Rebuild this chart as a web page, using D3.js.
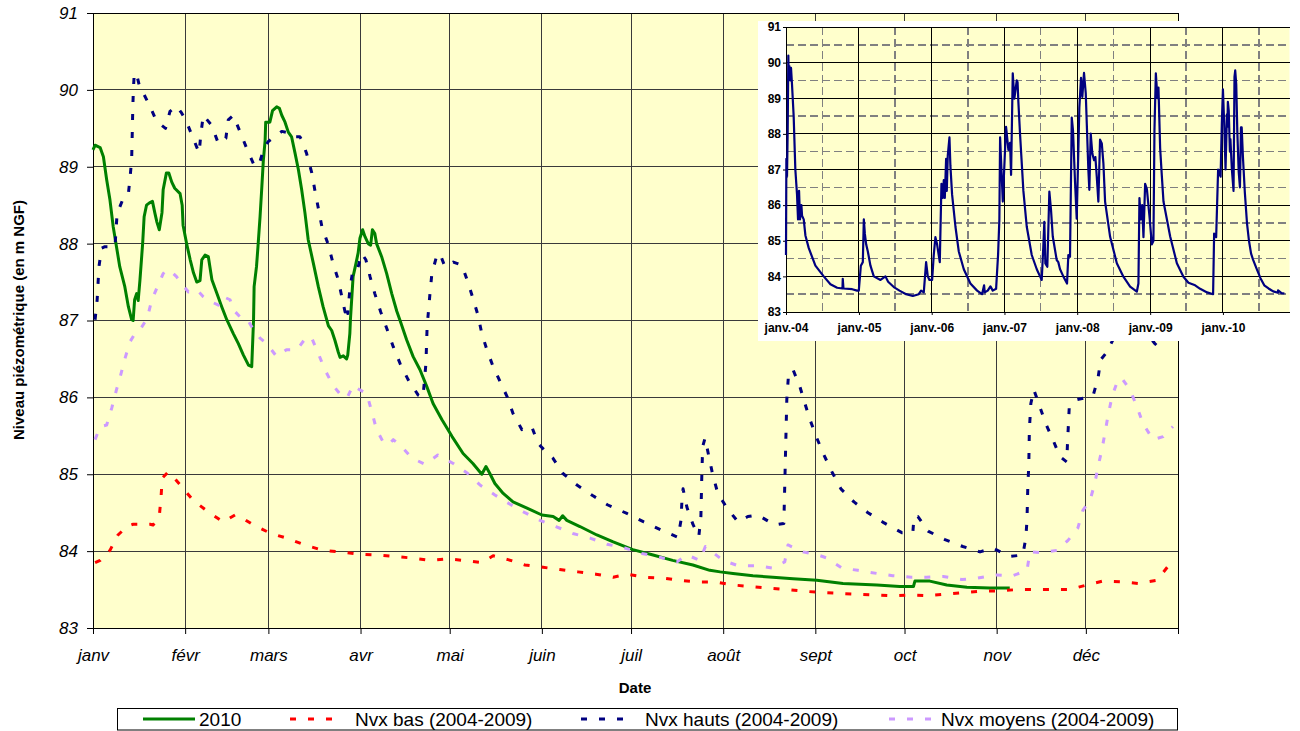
<!DOCTYPE html>
<html>
<head>
<meta charset="utf-8">
<script src="https://cdn.jsdelivr.net/npm/d3@7"></script>
<style>
  body { margin: 0; background: #fff; }
  svg { display: block; }
  text { font-family: "Liberation Sans", Arial, Helvetica, sans-serif; }
</style>
</head>
<body>
<svg id="chart" width="1300" height="731"></svg>
<script>
// ---- Labels -------------------------------------------------------------
const monthLabels = ["janv", "févr", "mars", "avr", "mai", "juin", "juil", "août", "sept", "oct", "nov", "déc"];
const levelTicks = [83, 84, 85, 86, 87, 88, 89, 90, 91];
const historyYearLabels = ["janv.-04", "janv.-05", "janv.-06", "janv.-07", "janv.-08", "janv.-09", "janv.-10"];
const seriesNames = ["2010", "Nvx bas (2004-2009)", "Nvx hauts (2004-2009)", "Nvx moyens (2004-2009)"];

// ---- Yearly curves: [day of year, level m NGF] --------------------------
const level2010 = [
  [0,89.22],[0.7,89.28],[2.4,89.25],[3.5,89.13],[4.6,88.83],[5.7,88.57],[6.8,88.22],[7.9,87.96],
  [9,87.70],[10.7,87.44],[11.9,87.18],[13,87.01],[13.5,87.0],[14,87.27],[14.7,87.35],[15.2,87.26],
  [15.8,87.53],[16.7,88.0],[17.2,88.35],[18,88.5],[19,88.53],[20,88.55],[20.8,88.40],[21.5,88.28],
  [22.3,88.18],[23.2,88.40],[23.6,88.70],[24.7,88.92],[25.5,88.92],[26.5,88.80],[27.5,88.72],
  [29.3,88.65],[30,88.50],[30.3,88.24],[31.6,87.98],[32.7,87.79],[33.8,87.62],[34.9,87.50],
  [36,87.52],[36.6,87.79],[37.7,87.85],[38.8,87.83],[40,87.53],[41.6,87.36],[43.3,87.18],[45,87.01],
  [47.2,86.83],[48.9,86.70],[50.6,86.55],[52.3,86.42],[53.4,86.40],[54,87.0],[54.2,87.44],[55,87.70],
  [55.5,87.96],[56.2,88.35],[56.8,88.74],[57.3,89.08],[57.9,89.34],[58.1,89.58],[59.5,89.58],
  [60.4,89.73],[61.8,89.78],[62.7,89.76],[63.5,89.67],[64.6,89.58],[65.7,89.45],[66.8,89.39],
  [68,89.17],[69.1,88.96],[70.2,88.70],[71.3,88.40],[72.4,88.05],[74.1,87.75],[75.8,87.44],
  [77.4,87.18],[79.2,86.93],[80.3,86.87],[81.4,86.74],[82.5,86.59],[83.1,86.52],[84.2,86.54],
  [85.3,86.50],[85.7,86.55],[86.4,86.83],[86.6,87.01],[87.5,87.57],[88.5,87.75],[89.2,87.88],
  [89.8,88.07],[90.7,88.18],[91.5,88.09],[92.6,88.0],[93.4,87.98],[94,88.18],[94.8,88.13],[95.4,88.0],
  [97.1,87.83],[98.8,87.61],[100.5,87.35],[102.2,87.12],[103.3,87.0],[105.5,86.75],[107.7,86.53],
  [110,86.36],[112.3,86.14],[114.4,85.92],[117.4,85.71],[120.8,85.49],[124.5,85.27],[127.8,85.14],
  [130.8,85.0],[132.2,85.10],[133.5,85.01],[135.2,84.88],[138,84.75],[141.3,84.64],[146,84.56],
  [151,84.47],[154.8,84.45],[156.8,84.40],[158,84.46],[159.4,84.40],[163.8,84.32],[169.5,84.21],
  [175,84.12],[181.6,84.02],[188.4,83.95],[195,83.88],[201.8,83.82],[207.5,83.75],[211,83.73],
  [215.3,83.71],[222,83.68],[228.7,83.66],[235.5,83.64],[243.5,83.62],[252.3,83.58],[263.7,83.56],
  [271.4,83.54],[276,83.54],[276.5,83.61],[281.5,83.61],[287.2,83.56],[294,83.53],[301.7,83.52],
  [308.4,83.52]
];

const lowLevels = [
  [0.7,83.85],[2.4,83.88],[5.7,84.01],[8.4,84.21],[11.4,84.32],[13.5,84.35],[19.2,84.35],[20.2,84.34],
  [22.3,84.45],[22.9,84.71],[23.3,84.95],[25.3,85.03],[26.5,84.99],[29.8,84.84],[33.7,84.66],
  [38.8,84.51],[43.8,84.38],[47.8,84.47],[49.4,84.45],[54,84.34],[59.8,84.23],[65.1,84.17],
  [71.3,84.08],[77.4,84.01],[83.1,83.99],[89.8,83.96],[95.4,83.95],[101.6,83.93],[107.3,83.91],
  [113.4,83.88],[119,83.90],[124.5,83.88],[130.8,83.85],[134.6,83.94],[139.6,83.89],[145.3,83.82],
  [151.4,83.79],[157,83.76],[163.1,83.73],[169.2,83.70],[175,83.66],[179.6,83.70],[185.7,83.66],
  [191.7,83.65],[197.4,83.62],[203.2,83.60],[209.2,83.60],[215.3,83.56],[221,83.54],[227,83.52],
  [233.4,83.50],[238.8,83.48],[245.2,83.46],[251.3,83.45],[257,83.44],[263,83.43],[269,83.42],
  [274.8,83.43],[280.9,83.42],[286.6,83.44],[292.7,83.46],[298.7,83.48],[304.4,83.48],[310.8,83.50],
  [316.5,83.50],[322.6,83.50],[328.6,83.50],[334.3,83.56],[339.7,83.61],[346.1,83.60],[351.5,83.58],
  [357.9,83.62],[361.6,83.80],[363.5,83.87]
];

const highLevels = [
  [0.7,87.01],[1.4,87.27],[2,87.70],[2.9,87.94],[4,87.96],[7.4,87.96],[8.1,88.39],[10.2,88.59],
  [11.9,88.65],[12.4,88.83],[13,89.09],[13.2,89.43],[13.4,89.78],[13.6,90.02],[13.9,90.22],
  [14.7,90.20],[15.8,90.02],[16.9,89.96],[19,89.80],[21.4,89.59],[24.4,89.50],[25.9,89.72],
  [28.1,89.79],[29.8,89.70],[31.4,89.59],[33.7,89.37],[35.7,89.18],[36.3,89.43],[37.1,89.67],
  [39.9,89.54],[42.2,89.30],[44.7,89.37],[45.5,89.61],[47.2,89.67],[49.4,89.46],[51.7,89.24],
  [54.2,89.02],[55,89.0],[56.2,89.07],[57.3,89.22],[59,89.33],[61.8,89.41],[63.5,89.46],[66,89.44],
  [67.3,89.39],[69.6,89.39],[70.2,89.35],[71.8,89.18],[73.6,88.92],[74.7,88.68],[75.8,88.46],
  [77,88.22],[79.2,87.98],[80.7,87.75],[82.5,87.53],[83.7,87.31],[84.8,87.11],[85.3,87.20],
  [85.7,87.09],[86.4,87.40],[87.3,87.63],[88.7,87.63],[90.4,87.87],[91.8,87.79],[93.2,87.57],
  [94.8,87.35],[96.8,87.11],[98.8,86.90],[101,86.66],[103.3,86.44],[106,86.23],[109.4,86.03],
  [111,86.0],[112,86.44],[112.4,86.92],[113.4,87.37],[114,87.61],[115.7,87.85],[116.7,87.87],
  [118.4,87.70],[121.2,87.76],[124.1,87.72],[126.1,87.50],[127.8,87.29],[129.5,87.07],[130.8,86.83],
  [132.5,86.62],[134.6,86.40],[139.3,86.01],[141.3,85.79],[144.3,85.58],[146.3,85.61],[147.6,85.62],
  [149.7,85.40],[152.7,85.28],[154.7,85.21],[158.1,85.01],[162.8,84.86],[168.2,84.72],[173.2,84.60],
  [179.6,84.49],[185.3,84.38],[191.4,84.27],[196.8,84.18],[197.8,84.40],[198.1,84.64],[198.5,84.81],
  [199.8,84.57],[201.8,84.35],[203.8,84.19],[204.5,84.45],[204.8,84.97],[205.1,85.36],[205.9,85.47],
  [207.2,85.23],[208.5,84.99],[210.2,84.75],[213.3,84.56],[217,84.38],[220.3,84.45],[223.7,84.47],
  [226.7,84.40],[229.4,84.34],[232.4,84.36],[232.7,84.84],[233.1,85.49],[233.4,85.97],[234,86.31],
  [235.5,86.36],[237.8,86.14],[239.5,85.92],[241.2,85.71],[243.5,85.47],[245.9,85.25],[248.6,85.03],
  [251.6,84.81],[256,84.64],[260.7,84.50],[266,84.37],[272.1,84.24],[275.8,84.24],[276.2,84.45],
  [277.5,84.45],[280.9,84.26],[286.6,84.15],[292.6,84.06],[298.4,83.99],[302.7,84.04],[308.4,83.93],
  [312.8,83.95],[313.8,84.17],[314.2,84.40],[314.5,84.88],[314.8,85.10],[315,85.58],[315.5,85.92],
  [316.5,86.10],[318.5,85.88],[320.5,85.66],[322.9,85.45],[325.3,85.23],[327.6,85.16],[327.8,85.38],
  [328.1,85.62],[328.4,85.86],[331,85.97],[335.4,86.01],[336.5,86.03],[338.1,86.25],[339,86.49],
  [341.1,86.59],[345,86.9],[349,87.1],[353,86.9],[357.2,86.70],[358.9,86.64]
];

const meanLevels = [
  [0.7,85.45],[2.4,85.62],[4.6,85.64],[6.3,85.86],[7.9,86.10],[9.3,86.29],[10.8,86.51],[12.4,86.72],
  [14.1,86.83],[15.8,86.88],[17.3,86.97],[18.1,87.01],[19.8,87.27],[21.9,87.46],[23.6,87.61],
  [24.7,87.66],[25.9,87.65],[28.1,87.57],[29.8,87.48],[32.1,87.37],[34.9,87.40],[37.1,87.31],
  [39.4,87.25],[42.2,87.20],[43.8,87.31],[46.1,87.27],[47.2,87.14],[49.4,87.05],[51.7,87.03],
  [54,86.88],[56.2,86.77],[58.4,86.70],[61.8,86.53],[65.1,86.62],[68.6,86.62],[71.9,86.79],
  [73.6,86.77],[75.8,86.57],[78,86.36],[80.7,86.16],[84.2,85.99],[85.7,86.01],[87.5,86.16],
  [88.7,86.12],[92.1,86.05],[93.8,85.81],[95.4,85.58],[97.6,85.42],[99.3,85.38],[101,85.45],
  [103.3,85.38],[107.3,85.21],[111.7,85.13],[116,85.25],[121.2,85.14],[126.1,85.01],[130.2,84.86],
  [135.2,84.73],[140.3,84.61],[145.3,84.50],[150.4,84.40],[155.7,84.32],[161.4,84.23],[167.2,84.17],
  [172.9,84.09],[178.9,84.04],[184.7,83.97],[190.7,83.92],[196.4,83.86],[199.8,83.95],[204.2,83.88],
  [206,84.06],[207,84.03],[211.9,83.88],[217,83.81],[223.3,83.81],[228.7,83.78],[232.7,83.86],
  [233.8,84.08],[238.8,83.99],[243.9,83.95],[246.9,83.91],[251.9,83.78],[257.3,83.75],[263.7,83.71],
  [269,83.68],[275.3,83.66],[280.3,83.66],[286,83.67],[292.3,83.63],[297.7,83.65],[304,83.69],
  [309.4,83.68],[314.2,83.75],[315.2,83.99],[319.5,83.98],[324.3,84.01],[328,84.14],[331.3,84.30],
  [333,84.53],[335.4,84.66],[337,84.88],[338.1,85.10],[339.4,85.32],[340.4,85.53],[341.4,85.75],
  [342.8,86.01],[344.8,86.23],[346.1,86.25],[348.8,86.10],[351.2,85.88],[353.2,85.66],[356.6,85.45],
  [360,85.49],[363.3,85.62]
];

// ---- Full record 2004-2010: [decimal year, level m NGF] -----------------
const history = [
  [2004.000,84.6],[2004.005,87.3],[2004.014,86.8],[2004.023,88.1],[2004.032,90.2],[2004.037,89.5],
  [2004.046,89.9],[2004.060,89.5],[2004.069,89.85],[2004.082,89.4],[2004.105,88.5],[2004.128,87.0],
  [2004.151,86.3],[2004.165,85.6],[2004.179,86.4],[2004.192,85.6],[2004.211,86.0],[2004.220,85.7],
  [2004.243,85.6],[2004.266,85.15],[2004.311,84.8],[2004.403,84.3],[2004.517,84.0],[2004.609,83.78],
  [2004.701,83.68],[2004.774,83.66],[2004.778,83.93],[2004.788,83.66],[2004.907,83.64],[2004.975,83.6],
  [2004.998,83.6],[2005.012,83.95],[2005.026,84.3],[2005.053,84.4],[2005.067,85.6],[2005.081,85.2],
  [2005.099,84.9],[2005.122,84.7],[2005.158,84.3],[2005.204,84.0],[2005.296,83.9],[2005.364,84.0],
  [2005.401,83.85],[2005.479,83.7],[2005.557,83.6],[2005.648,83.5],[2005.740,83.45],[2005.822,83.5],
  [2005.854,83.6],[2005.891,83.55],[2005.923,84.4],[2005.946,84.0],[2005.969,83.9],
  [2006.006,83.9],[2006.028,84.6],[2006.051,85.1],[2006.074,84.9],[2006.111,84.4],[2006.134,86.6],
  [2006.152,86.2],[2006.166,86.7],[2006.180,86.2],[2006.198,87.3],[2006.207,86.4],[2006.221,87.4],
  [2006.244,87.9],[2006.257,87.1],[2006.280,86.3],[2006.326,85.4],[2006.372,84.7],[2006.441,84.2],
  [2006.532,83.8],[2006.624,83.6],[2006.692,83.5],[2006.720,83.75],[2006.729,83.55],[2006.770,83.6],
  [2006.807,83.72],[2006.839,83.6],[2006.885,83.65],[2006.912,84.6],[2006.930,85.6],[2006.940,87.9],
  [2006.977,86.1],[2007.022,88.2],[2007.054,87.55],[2007.077,87.75],[2007.091,86.85],[2007.114,89.7],
  [2007.136,88.99],[2007.169,89.5],[2007.180,89.45],[2007.191,88.9],[2007.214,88.0],[2007.260,86.4],
  [2007.306,85.4],[2007.375,84.6],[2007.444,84.2],[2007.489,84.0],[2007.512,83.9],[2007.534,84.83],
  [2007.548,85.53],[2007.562,84.36],[2007.589,84.27],[2007.617,86.38],[2007.640,85.86],[2007.664,85.12],
  [2007.718,84.46],[2007.740,84.4],[2007.764,84.2],[2007.809,84.0],[2007.860,83.8],[2007.878,84.6],
  [2007.901,84.55],[2007.925,88.46],[2007.942,88.1],[2007.970,86.65],[2007.993,85.62],
  [2008.007,86.8],[2008.029,88.73],[2008.052,89.57],[2008.070,89.04],[2008.093,89.71],[2008.117,89.14],
  [2008.131,88.29],[2008.153,86.98],[2008.166,86.43],[2008.185,88.01],[2008.207,87.45],[2008.231,87.26],
  [2008.249,87.35],[2008.268,86.8],[2008.290,86.1],[2008.313,87.84],[2008.337,87.73],[2008.359,87.17],
  [2008.382,86.1],[2008.451,85.11],[2008.543,84.37],[2008.633,83.99],[2008.725,83.71],[2008.817,83.57],
  [2008.839,83.8],[2008.853,86.2],[2008.872,85.6],[2008.890,86.0],[2008.908,85.1],[2008.931,86.6],
  [2008.955,86.45],[2008.990,85.7],[2009.023,84.9],[2009.045,85.0],[2009.059,88.1],[2009.078,89.7],
  [2009.100,89.0],[2009.114,89.3],[2009.137,87.6],[2009.161,86.8],[2009.183,86.1],[2009.275,85.12],
  [2009.367,84.37],[2009.457,83.99],[2009.526,83.82],[2009.618,83.75],[2009.687,83.65],[2009.783,83.55],
  [2009.865,83.5],[2009.879,85.2],[2009.907,85.1],[2009.934,87.0],[2009.968,86.8],[2009.985,88.3],
  [2010.000,89.25],[2010.019,88.2],[2010.036,87.0],[2010.055,88.55],[2010.061,88.2],[2010.068,88.9],
  [2010.080,88.65],[2010.096,87.5],[2010.103,87.85],[2010.123,87.0],[2010.146,86.4],[2010.159,89.6],
  [2010.169,89.78],[2010.183,89.39],[2010.198,88.05],[2010.217,86.93],[2010.234,86.5],[2010.248,88.18],
  [2010.256,87.98],[2010.258,88.18],[2010.275,87.35],[2010.301,86.36],[2010.331,85.49],[2010.358,85.0],
  [2010.387,84.64],[2010.414,84.47],[2010.464,84.21],[2010.516,83.95],[2010.568,83.75],[2010.627,83.66],
  [2010.691,83.58],[2010.756,83.54],[2010.758,83.61],[2010.805,83.53],[2010.845,83.52]
];

// ---- Main chart -----------------------------------------------------------
const svg = d3.select("#chart");
const plot = { left: 93, right: 1178, top: 13, bottom: 628 };
const font = '"Liberation Sans", Arial, Helvetica, sans-serif';

const yearStart = new Date(Date.UTC(2010, 0, 1));
const yearEnd = new Date(Date.UTC(2011, 0, 1));
const dayToDate = d => new Date(yearStart.getTime() + d * 864e5);

const x = d3.scaleUtc().domain([yearStart, yearEnd]).range([plot.left, plot.right]);
const y = d3.scaleLinear().domain([83, 91]).range([plot.bottom, plot.top]);
const monthStarts = d3.utcMonth.range(yearStart, yearEnd);

svg.append("rect")
  .attr("x", plot.left).attr("y", plot.top)
  .attr("width", plot.right - plot.left).attr("height", plot.bottom - plot.top)
  .attr("fill", "#FFFFCC");

const grid = svg.append("g").attr("stroke", "#3a3a3a").attr("stroke-width", 1).attr("shape-rendering", "crispEdges");
grid.selectAll("line.v").data(monthStarts.slice(1)).join("line")
  .attr("x1", d => x(d)).attr("x2", d => x(d))
  .attr("y1", plot.top).attr("y2", plot.bottom);
grid.selectAll("line.h").data(levelTicks.slice(1, -1)).join("line")
  .attr("x1", plot.left).attr("x2", plot.right)
  .attr("y1", d => y(d)).attr("y2", d => y(d));

// Left axis
const yAxis = svg.append("g").attr("transform", `translate(${plot.left},0)`)
  .call(d3.axisLeft(y).tickValues(levelTicks).tickFormat(d3.format("d")).tickSize(6).tickPadding(9).tickSizeOuter(0));
yAxis.selectAll("text").attr("font-family", font).attr("font-size", 17).attr("font-style", "italic").attr("fill", "#000");
yAxis.selectAll("line").attr("stroke", "#000");
yAxis.select(".domain").attr("stroke", "#000");

// Bottom axis
const xAxis = svg.append("g").attr("transform", `translate(0,${plot.bottom})`)
  .call(d3.axisBottom(x).tickValues(monthStarts.concat([yearEnd]))
    .tickFormat((d, i) => monthLabels[i] || "").tickSize(6).tickPadding(15).tickSizeOuter(0));
xAxis.selectAll("text").attr("font-family", font).attr("font-size", 17).attr("font-style", "italic").attr("fill", "#000");
xAxis.selectAll("line").attr("stroke", "#000");
xAxis.select(".domain").attr("stroke", "#000");

// Plot frame
svg.append("rect")
  .attr("x", plot.left).attr("y", plot.top)
  .attr("width", plot.right - plot.left).attr("height", plot.bottom - plot.top)
  .attr("fill", "none").attr("stroke", "#000").attr("stroke-width", 1).attr("shape-rendering", "crispEdges");

// Series
const seriesStyle = [
  { name: seriesNames[0], data: level2010, color: "#008000", dash: null },
  { name: seriesNames[1], data: lowLevels, color: "#FF0000", dash: "6,12" },
  { name: seriesNames[2], data: highLevels, color: "#000080", dash: "6,12" },
  { name: seriesNames[3], data: meanLevels, color: "#CC99FF", dash: "6,12" }
];
const line = d3.line().x(d => x(dayToDate(d[0]))).y(d => y(d[1]));
svg.append("g").selectAll("path").data(seriesStyle).join("path")
  .attr("d", s => line(s.data))
  .attr("fill", "none")
  .attr("stroke", s => s.color)
  .attr("stroke-width", 3)
  .attr("stroke-dasharray", s => s.dash)
  .attr("stroke-linejoin", "round");

// Axis titles
svg.append("text").attr("x", 635).attr("y", 693).attr("text-anchor", "middle")
  .attr("font-family", font).attr("font-size", 15).attr("font-weight", "bold").text("Date");
svg.append("text").attr("transform", "translate(24,320) rotate(-90)").attr("text-anchor", "middle")
  .attr("font-family", font).attr("font-size", 15).attr("font-weight", "bold")
  .text("Niveau piézométrique (en m NGF)");

// Legend
const legend = svg.append("g");
legend.append("rect").attr("x", 117.5).attr("y", 708.5).attr("width", 1060).attr("height", 21.5)
  .attr("fill", "#fff").attr("stroke", "#000").attr("stroke-width", 1);
const legendSlots = [
  { x0: 143, x1: 195, tx: 199 },
  { x0: 290, x1: 334, tx: 355 },
  { x0: 581, x1: 625, tx: 645 },
  { x0: 889, x1: 933, tx: 941 }
];
seriesStyle.forEach((s, i) => {
  const slot = legendSlots[i];
  legend.append("line").attr("x1", slot.x0).attr("x2", slot.x1).attr("y1", 719).attr("y2", 719)
    .attr("stroke", s.color).attr("stroke-width", 3).attr("stroke-dasharray", s.dash);
  legend.append("text").attr("x", slot.tx).attr("y", 726)
    .attr("font-family", font).attr("font-size", 19).attr("fill", "#000").text(s.name);
});

// ---- Inset: full 2004-2010 record ---------------------------------------
const inset = { left: 786, right: 1289.5, top: 27, bottom: 312 };
const yearToDate = t => {
  const yr = Math.floor(t);
  const a = Date.UTC(yr, 0, 1), b = Date.UTC(yr + 1, 0, 1);
  return new Date(a + (t - yr) * (b - a));
};
const xi = d3.scaleUtc()
  .domain([new Date(Date.UTC(2004, 0, 1)), new Date(Date.UTC(2010, 11, 1))])
  .range([inset.left, inset.right]);
const yi = d3.scaleLinear().domain([83, 91]).range([inset.bottom, inset.top]);

const ig = svg.append("g");
ig.append("rect").attr("x", 758).attr("y", 21).attr("width", 534).attr("height", 320).attr("fill", "#fff");
ig.append("rect").attr("x", inset.left).attr("y", inset.top)
  .attr("width", inset.right - inset.left).attr("height", inset.bottom - inset.top).attr("fill", "#FFFFCC");

const januaries = d3.range(2004, 2011).map(yr => new Date(Date.UTC(yr, 0, 1)));
const julies = d3.range(2004, 2011).map(yr => new Date(Date.UTC(yr, 6, 1)));
const halfLevels = levelTicks.slice(0, -1).map(v => v + 0.5);

const ig2 = ig.append("g").attr("shape-rendering", "crispEdges");
ig2.selectAll("line.hd").data(halfLevels).join("line")
  .attr("x1", inset.left).attr("x2", inset.right).attr("y1", d => yi(d)).attr("y2", d => yi(d))
  .attr("stroke", "#808080").attr("stroke-width", 1.5).attr("stroke-dasharray", "8,4");
ig2.selectAll("line.vd").data(julies).join("line")
  .attr("x1", d => xi(d)).attr("x2", d => xi(d)).attr("y1", inset.top).attr("y2", inset.bottom)
  .attr("stroke", "#808080").attr("stroke-width", 1.5).attr("stroke-dasharray", "8,4");
ig2.selectAll("line.hs").data(levelTicks.slice(1)).join("line")
  .attr("x1", inset.left).attr("x2", inset.right).attr("y1", d => yi(d)).attr("y2", d => yi(d))
  .attr("stroke", "#000").attr("stroke-width", 1);
ig2.selectAll("line.vs").data(januaries.slice(1)).join("line")
  .attr("x1", d => xi(d)).attr("x2", d => xi(d)).attr("y1", inset.top).attr("y2", inset.bottom)
  .attr("stroke", "#000").attr("stroke-width", 1);

const iyAxis = ig.append("g").attr("transform", `translate(${inset.left},0)`)
  .call(d3.axisLeft(yi).tickValues(levelTicks).tickFormat(d3.format("d")).tickSize(3).tickPadding(2).tickSizeOuter(0));
iyAxis.selectAll("text").attr("font-family", font).attr("font-size", 12).attr("font-weight", "bold").attr("fill", "#000");
iyAxis.selectAll("line, .domain").attr("stroke", "#000");

const ixAxis = ig.append("g").attr("transform", `translate(0,${inset.bottom})`)
  .call(d3.axisBottom(xi).tickValues(januaries).tickFormat((d, i) => historyYearLabels[i])
    .tickSize(3).tickPadding(8).tickSizeOuter(0));
ixAxis.selectAll("text").attr("font-family", font).attr("font-size", 12).attr("font-weight", "bold").attr("fill", "#000");
ixAxis.selectAll("line, .domain").attr("stroke", "#000");

const iline = d3.line().x(d => xi(yearToDate(d[0]))).y(d => yi(d[1]));
ig.append("path").attr("d", iline(history))
  .attr("fill", "none").attr("stroke", "#000080").attr("stroke-width", 2.2).attr("stroke-linejoin", "round");
</script>
</body>
</html>
